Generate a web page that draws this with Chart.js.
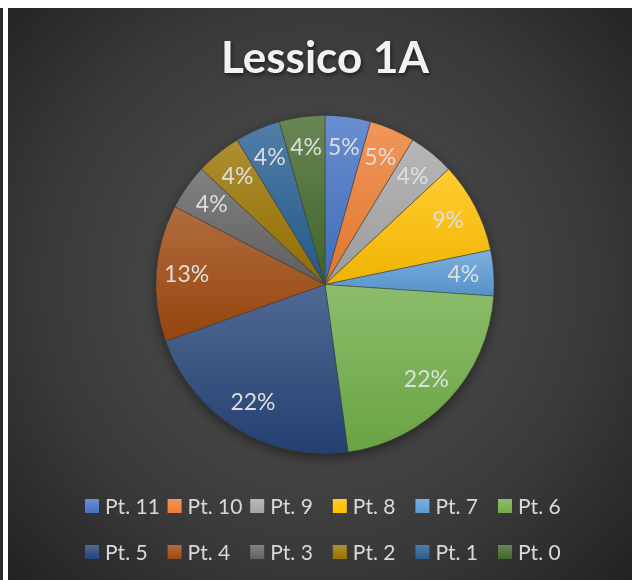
<!DOCTYPE html>
<html>
<head>
<meta charset="utf-8">
<script src="https://cdn.jsdelivr.net/npm/chart.js@4.4.1/dist/chart.umd.min.js"></script>
<style>
  html, body { margin: 0; padding: 0; background: #fff; }
  body { width: 632px; height: 580px; position: relative; overflow: hidden; }
  #edge { position: absolute; left: 0; top: 8px; width: 3px; height: 572px; background: #2b2b2b; }
  #frame {
    position: absolute; left: 8px; top: 8px; width: 624px; height: 572px;
    background: radial-gradient(circle farthest-corner at 50% 48%, #4d4d4d 0%, #444 40%, #393939 65%, #222 100%);
  }
</style>
</head>
<body>
<div id="edge"></div>
<div id="frame"><canvas id="pieChart"></canvas></div>
<script>
const chartTitle = 'Lessico 1A';
const categories = ['Pt. 11', 'Pt. 10', 'Pt. 9', 'Pt. 8', 'Pt. 7', 'Pt. 6',
                    'Pt. 5', 'Pt. 4', 'Pt. 3', 'Pt. 2', 'Pt. 1', 'Pt. 0'];
const counts = [1, 1, 1, 2, 1, 5, 5, 3, 1, 1, 1, 1];
const sliceColors = ['#4472C4', '#ED7D31', '#A5A5A5', '#FFC000', '#5B9BD5', '#70AD47',
                     '#264478', '#9E480E', '#636363', '#997300', '#255E91', '#43682B'];

const total = counts.reduce((a, b) => a + b, 0);

// percentages rounded so they add up to 100 (like the office labels)
function roundedPercents(values) {
    const raw = values.map(v => v * 100 / total);
    const out = raw.map(Math.floor);
    const left = 100 - out.reduce((a, b) => a + b, 0);
    const order = raw.map((r, i) => i)
        .sort((a, b) => (raw[b] - out[b]) - (raw[a] - out[a]) || a - b);
    for (let k = 0; k < left; k++) out[order[k]]++;
    return out;
}
const percents = roundedPercents(counts);

function mix(hex, withHex, t) {
    const a = parseInt(hex.slice(1), 16), b = parseInt(withHex.slice(1), 16);
    const ch = s => Math.round(((a >> s) & 255) * (1 - t) + ((b >> s) & 255) * t);
    return 'rgb(' + ch(16) + ',' + ch(8) + ',' + ch(0) + ')';
}

function sliceFill(ctx) {
    const i = ctx.dataIndex;
    const chart = ctx.chart;
    const area = chart.chartArea;
    if (i === undefined || !area) return sliceColors[i] || '#888';
    const base = sliceColors[i];
    const cx = (area.left + area.right) / 2, cy = (area.top + area.bottom) / 2;
    const r = Math.min(area.width, area.height) / 2;
    const before = counts.slice(0, i).reduce((a, b) => a + b, 0);
    const start = before / total * Math.PI * 2;
    const end = (before + counts[i]) / total * Math.PI * 2;
    const ys = [cy, cy - r * Math.cos(start), cy - r * Math.cos(end)];
    if (start === 0) ys.push(cy - r);
    if (start <= Math.PI && end >= Math.PI) ys.push(cy + r);
    const g = chart.ctx.createLinearGradient(0, Math.min(...ys), 0, Math.max(...ys));
    g.addColorStop(0, mix(base, '#ffffff', 0.2));
    g.addColorStop(1, mix(base, '#000000', 0.06));
    return g;
}

const titlePlugin = {
    id: 'bigTitle',
    afterDraw(chart) {
        const c = chart.ctx;
        c.save();
        c.font = 'bold 44px Lato';
        c.textAlign = 'center';
        c.textBaseline = 'alphabetic';
        c.shadowColor = 'rgba(0,0,0,0.6)';
        c.shadowBlur = 4;
        c.shadowOffsetX = 1;
        c.shadowOffsetY = 2;
        c.fillStyle = '#f2f2f2';
        c.fillText(chartTitle, 317, 65);
        c.restore();
    }
};

const pieShadow = {
    id: 'pieShadow',
    beforeDatasetsDraw(chart) {
        const arc = chart.getDatasetMeta(0).data[0];
        if (!arc) return;
        const c = chart.ctx;
        c.save();
        c.shadowColor = 'rgba(0,0,0,0.55)';
        c.shadowBlur = 14;
        c.shadowOffsetY = 4;
        c.fillStyle = '#333';
        c.beginPath();
        c.arc(arc.x, arc.y, arc.outerRadius - 1, 0, Math.PI * 2);
        c.fill();
        c.restore();
    }
};

const sliceLabels = {
    id: 'sliceLabels',
    afterDatasetsDraw(chart) {
        const c = chart.ctx;
        c.save();
        c.font = '23px Lato';
        c.fillStyle = '#dedede';
        c.textAlign = 'center';
        c.textBaseline = 'middle';
        chart.getDatasetMeta(0).data.forEach((arc, i) => {
            const p = arc.getProps(['x', 'y', 'startAngle', 'endAngle', 'outerRadius'], true);
            const mid = (p.startAngle + p.endAngle) / 2;
            const d = p.outerRadius * 0.82;
            c.fillText(percents[i] + '%', p.x + Math.cos(mid) * d, p.y + Math.sin(mid) * d);
        });
        c.restore();
    }
};

const gridLegend = {
    id: 'gridLegend',
    afterDraw(chart) {
        const c = chart.ctx;
        const perRow = 6, x0 = 77, step = 82.6, rowsY = [498, 544];
        c.save();
        c.font = '21px Lato';
        c.textBaseline = 'middle';
        c.textAlign = 'left';
        categories.forEach((name, i) => {
            const x = x0 + (i % perRow) * step;
            const y = rowsY[Math.floor(i / perRow)];
            const g = c.createLinearGradient(0, y - 7, 0, y + 7);
            g.addColorStop(0, mix(sliceColors[i], '#ffffff', 0.2));
            g.addColorStop(1, sliceColors[i]);
            c.fillStyle = g;
            c.fillRect(x, y - 7, 14, 14);
            c.fillStyle = '#d9d9d9';
            c.fillText(name, x + 20, y + 1);
        });
        c.restore();
    }
};

new Chart(document.getElementById('pieChart'), {
    type: 'pie',
    data: {
        labels: categories,
        datasets: [{
            data: counts,
            backgroundColor: sliceFill,
            borderColor: 'rgba(60,60,60,0.7)',
            borderWidth: 0.75
        }]
    },
    options: {
        responsive: true,
        maintainAspectRatio: false,
        animation: false,
        layout: { padding: { top: 107, bottom: 126, left: 10, right: 0 } },
        plugins: {
            legend: { display: false },
            tooltip: { enabled: false }
        }
    },
    plugins: [pieShadow, sliceLabels, titlePlugin, gridLegend]
});
</script>
</body>
</html>
